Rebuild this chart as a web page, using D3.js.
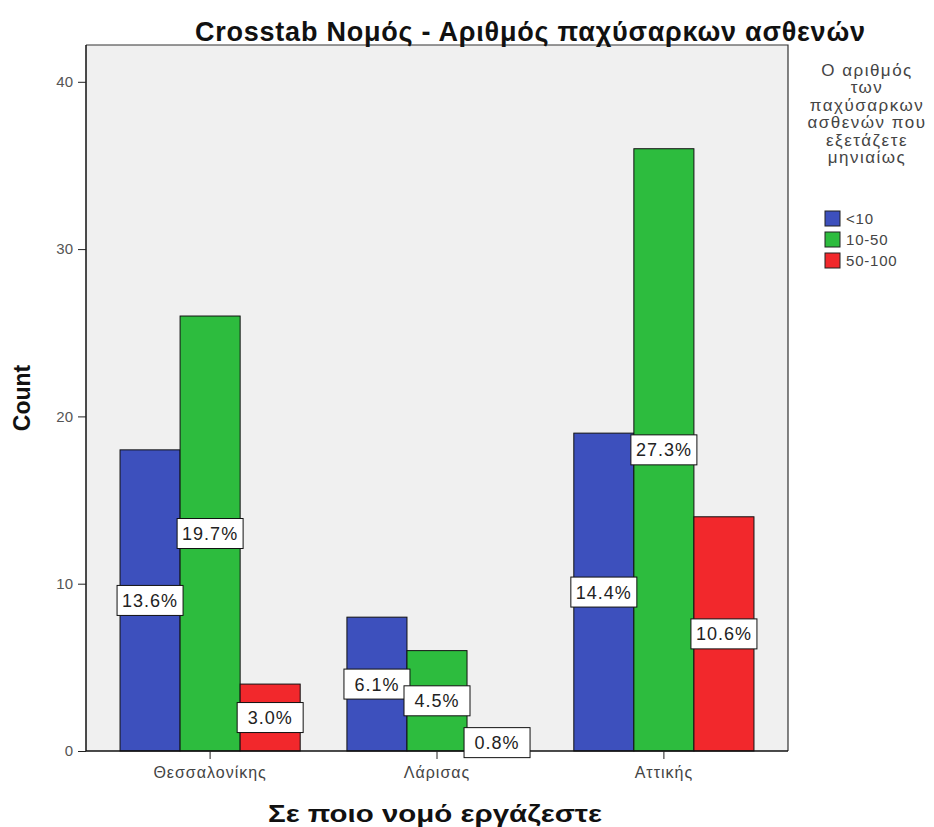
<!DOCTYPE html>
<html>
<head>
<meta charset="utf-8">
<script src="https://cdn.jsdelivr.net/npm/d3@7"></script>
<style>
  html, body { margin: 0; padding: 0; background: #ffffff; }
  svg { display: block; }
  text { font-family: Arial, "Liberation Sans", sans-serif; }
</style>
</head>
<body>
<svg id="chart" width="934" height="827"></svg>
<script>
// Regions (x axis)
const categories = ["Θεσσαλονίκης", "Λάρισας", "Αττικής"];
// Monthly obese patient groups (legend)
const seriesNames = ["<10", "10-50", "50-100"];
// Counts per region, one array per group
const countsLt10 = [18, 8, 19];
const counts10to50 = [26, 6, 36];
const counts50to100 = [4, 1, 14];
// Percent of total shown on each bar
const pctLt10 = ["13.6%", "6.1%", "14.4%"];
const pct10to50 = ["19.7%", "4.5%", "27.3%"];
const pct50to100 = ["3.0%", "0.8%", "10.6%"];
const yTicks = [0, 10, 20, 30, 40];

const colors = ["#3d50bd", "#2dbc3e", "#f2282c"];
const seriesCounts = [countsLt10, counts10to50, counts50to100];
const seriesPct = [pctLt10, pct10to50, pct50to100];

const rows = [];
categories.forEach((c, ci) => {
  seriesNames.forEach((s, si) => {
    rows.push({ cat: c, series: s, si, value: seriesCounts[si][ci], pct: seriesPct[si][ci] });
  });
});

const svg = d3.select("#chart");
const plot = { left: 86, right: 788, top: 45, bottom: 751 };

const x0 = d3.scaleBand().domain(categories)
  .range([plot.left, plot.right]).paddingInner(0.206).paddingOuter(0.15);
const x1 = d3.scaleBand().domain(seriesNames).range([0, x0.bandwidth()]);
const y = d3.scaleLinear().domain([0, 42.2]).range([plot.bottom, plot.top]);

// plot background
svg.append("rect")
  .attr("x", plot.left).attr("y", plot.top)
  .attr("width", plot.right - plot.left).attr("height", plot.bottom - plot.top)
  .attr("fill", "#f0f0f0");

// top and right frame
svg.append("path")
  .attr("d", `M${plot.left},${plot.top}H${plot.right}V${plot.bottom}`)
  .attr("fill", "none").attr("stroke", "#333").attr("stroke-width", 1.2);

// bars
svg.append("g").selectAll("rect").data(rows).join("rect")
  .attr("x", d => x0(d.cat) + x1(d.series))
  .attr("y", d => y(d.value))
  .attr("width", x1.bandwidth())
  .attr("height", d => y(0) - y(d.value))
  .attr("fill", d => colors[d.si])
  .attr("stroke", "#111").attr("stroke-width", 1);

// y axis
const yAxis = d3.axisLeft(y).tickValues(yTicks).tickSize(8).tickPadding(5);
const gy = svg.append("g").attr("transform", `translate(${plot.left},0)`).call(yAxis);
gy.select(".domain").attr("stroke", "#111").attr("stroke-width", 1.5)
  .attr("d", `M0,${plot.top}V${plot.bottom}`);
gy.selectAll(".tick line").attr("stroke", "#222");
gy.selectAll(".tick text").attr("font-size", 15).attr("fill", "#555")
  .attr("font-family", "Arial, 'Liberation Sans', sans-serif");

// x axis
const xAxis = d3.axisBottom(x0).tickSize(8).tickPadding(8);
const gx = svg.append("g").attr("transform", `translate(0,${plot.bottom})`).call(xAxis);
gx.select(".domain").attr("stroke", "#111").attr("stroke-width", 1.5)
  .attr("d", `M${plot.left},0H${plot.right}`);
gx.selectAll(".tick line").attr("stroke", "#222");
gx.selectAll(".tick text").attr("font-size", 16).attr("letter-spacing", 1).attr("fill", "#444")
  .attr("font-family", "Arial, 'Liberation Sans', sans-serif");

// percentage labels in boxes at bar mid-height
const lab = svg.append("g").selectAll("g").data(rows).join("g")
  .attr("transform", d => `translate(${x0(d.cat) + x1(d.series) + x1.bandwidth() / 2},${y(d.value / 2)})`);
lab.append("rect")
  .attr("x", -33).attr("y", -15).attr("width", 66).attr("height", 30)
  .attr("fill", "#fff").attr("stroke", "#111").attr("stroke-width", 1);
lab.append("text")
  .attr("text-anchor", "middle").attr("dy", "0.36em")
  .attr("font-size", 18).attr("letter-spacing", 1).attr("fill", "#222")
  .text(d => d.pct);

// title
svg.append("text")
  .attr("x", 530).attr("y", 41).attr("text-anchor", "middle")
  .attr("font-size", 27).attr("font-weight", "bold").attr("fill", "#111")
  .attr("textLength", 670).attr("lengthAdjust", "spacing")
  .text("Crosstab Νομός - Αριθμός παχύσαρκων ασθενών");

// axis titles
svg.append("text")
  .attr("transform", `translate(30,398) rotate(-90)`).attr("text-anchor", "middle")
  .attr("font-size", 23).attr("font-weight", "bold").attr("fill", "#111")
  .text("Count");
svg.append("text")
  .attr("x", 435).attr("y", 822).attr("text-anchor", "middle")
  .attr("font-size", 24).attr("font-weight", "bold").attr("fill", "#111")
  .attr("textLength", 334).attr("lengthAdjust", "spacingAndGlyphs")
  .text("Σε ποιο νομό εργάζεστε");

// legend
const legTitle = ["Ο αριθμός", "των", "παχύσαρκων", "ασθενών που", "εξετάζετε", "μηνιαίως"];
const leg = svg.append("g");
leg.selectAll("text.t").data(legTitle).join("text").attr("class", "t")
  .attr("x", 867).attr("y", (d, i) => 76 + i * 17.4).attr("text-anchor", "middle")
  .attr("font-size", 17).attr("letter-spacing", 1.5).attr("fill", "#444").text(d => d);
const items = leg.selectAll("g.i").data(seriesNames).join("g").attr("class", "i")
  .attr("transform", (d, i) => `translate(825,${211 + i * 21})`);
items.append("rect").attr("width", 15).attr("height", 15)
  .attr("fill", (d, i) => colors[i]).attr("stroke", "#222").attr("stroke-width", 1);
items.append("text").attr("x", 21).attr("y", 7.5).attr("dy", "0.36em")
  .attr("font-size", 15).attr("letter-spacing", 0.8).attr("fill", "#444").text(d => d);
</script>
</body>
</html>
